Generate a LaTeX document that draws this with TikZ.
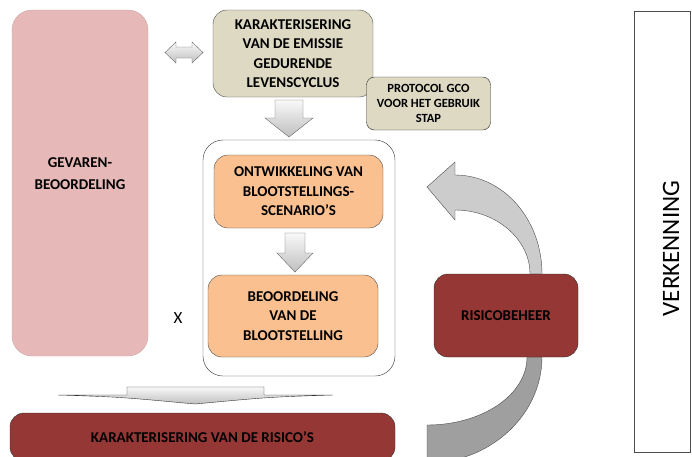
\documentclass[tikz,border=0pt]{standalone}
\usepackage{fontspec}
\setmainfont{Carlito}
\usetikzlibrary{positioning}
\definecolor{roze}{HTML}{E6B9B8}
\definecolor{kaki}{HTML}{DDD9C3}
\definecolor{oranje}{HTML}{FAC090}
\definecolor{rood}{HTML}{953735}

\begin{document}
\begin{tikzpicture}[x=1pt, y=-1pt,
blok/.style={draw=black!70, rounded corners=14pt, align=center, inner sep=0pt, font=\fontsize{15}{19.5}\selectfont\bfseries},
beige/.style={blok, fill=kaki},
oranjeblok/.style={blok, fill=oranje},
roodblok/.style={blok, fill=rood, draw=black!80},
pijl/.style={top color=gray!5, bottom color=gray!50, draw=black!60}
]
\clip (0,0) rectangle (692,456);

% linkerkolom
\node[blok, fill=roze, draw=roze!90!black, rounded corners=20pt, minimum width=136pt, minimum height=346pt,
  label={[align=center, font=\fontsize{15}{22}\selectfont\bfseries, yshift=9pt]center:GEVAREN-\\BEOORDELING}] (gevaren) at (80,183) {};
\shade[pijl] (165,52.5) -- (176,42) -- (176,47) -- (192,47) -- (192,42) -- (203,52.5) -- (192,63) -- (192,58) -- (176,58) -- (176,63) -- cycle;

% emissie en protocol
\node[beige, minimum width=160pt, minimum height=87pt] (emissie) at (293,53.5) {KARAKTERISERING\\VAN DE EMISSIE\\GEDURENDE\\LEVENSCYCLUS};
\node[beige, draw=black!85, rounded corners=8pt, minimum width=124pt, minimum height=53pt, font=\fontsize{12.5}{15}\selectfont\bfseries] (protocol) at (428.5,103.5) {PROTOCOL GCO\\VOOR HET GEBRUIK\\STAP};
\shade[pijl] (275,100) -- (303,100) -- (303,118) -- (313,118) -- (289,137) -- (265,118) -- (275,118) -- cycle;

% blootstelling
\node[draw=black!80, rounded corners=20pt, fill=white, minimum width=192pt, minimum height=236pt] (kader) at (299,258) {};
\node[oranjeblok, minimum width=169pt, minimum height=73pt] (scenario) at (298.5,191.5) {ONTWIKKELING VAN\\BLOOTSTELLINGS-\\SCENARIO’S};
\node[oranjeblok, minimum width=170pt, minimum height=82pt] (blootstelling) at (293,316) {BEOORDELING\\VAN DE\\BLOOTSTELLING};
\shade[pijl] (285,233) -- (305,233) -- (305,253) -- (313,253) -- (295,272) -- (277,253) -- (285,253) -- cycle;
\node[font=\fontsize{17}{20}\selectfont] (x) at (178,318) {X};

% risico's
\shade[pijl, draw=black!80] (127,387) -- (264,387) -- (264,395) -- (333,395) .. controls (270,397) .. (195,404) .. controls (120,397) .. (58,395) -- (127,395) -- cycle;
\node[roodblok, minimum width=385pt, minimum height=48pt] (risico) at (202.5,437) {KARAKTERISERING VAN DE RISICO’S};

% risicobeheer met gebogen pijl
\draw[fill=gray!40, draw=black!70] (542,274) .. controls (542,219) and (503,175) .. (455,175) -- (455,162) -- (427,187) -- (455,220) -- (455,210) .. controls (496,210) and (530,239) .. (530,274) -- cycle;
\draw[fill=gray!75, draw=black!70] (542,357) .. controls (542,415) and (490,463) .. (427,463) -- (427,425) .. controls (482,425) and (527,395) .. (527,357) -- cycle;
\node[roodblok, minimum width=144pt, minimum height=83pt] (beheer) at (506,315.5) {RISICOBEHEER};

% verkenning
\node[draw=black!70, minimum width=56pt, minimum height=441pt, inner sep=0pt] (verkenning) at (662,231.5) {};
\node[rotate=90, font=\fontsize{25}{30}\selectfont, xshift=-17pt, yshift=-9pt] (verkenningtekst) at (verkenning.center) {VERKENNING};
\end{tikzpicture}
\end{document}
